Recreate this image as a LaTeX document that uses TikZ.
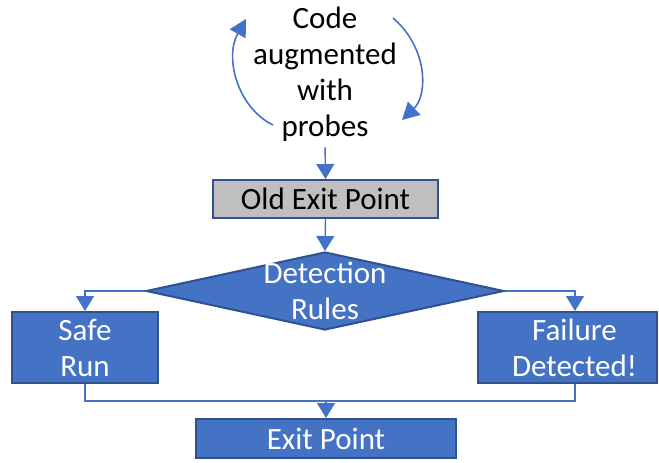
\documentclass[tikz,border=0pt]{standalone}
\usepackage{fontspec}
\setmainfont{Carlito}
\usetikzlibrary{arrows.meta,shapes.geometric}
\definecolor{boxblue}{HTML}{4472C4}
\definecolor{edgeblue}{HTML}{2F528F}
\definecolor{boxgray}{HTML}{BFBFBF}
\begin{document}
\begin{tikzpicture}[x=1pt,y=-1pt,
  txt/.style={font=\fontsize{31}{36}\selectfont, align=center, inner sep=0pt},
  bluebox/.style={txt, draw=edgeblue, line width=2pt, fill=boxblue, text=white},
  graybox/.style={txt, draw=edgeblue, line width=2pt, fill=boxgray, text=black},
  conn/.style={draw=boxblue, line width=1.4pt},
  arr/.style={conn, -{Triangle[width=18pt,length=15pt]}},
  curvarr/.style={draw=boxblue, line width=1.6pt, -{Triangle[width=18pt,length=17pt]}}]
\useasboundingbox (0,0) rectangle (659,463);

\node[txt] (code) at (325,74) {Code\\augmented\\with\\probes};
\node[graybox, minimum width=225pt, minimum height=38pt] (old) at (325.5,199) {Old Exit Point};
\node[diamond, draw=edgeblue, line width=2pt, fill=boxblue, minimum width=358pt, minimum height=78pt, inner sep=0pt,
      label={[txt,text=white]center:Detection\\Rules}] (dia) at (325,291) {};
\node[bluebox, minimum width=146pt, minimum height=71pt] (safe) at (85,347.5) {Safe\\Run};
\node[bluebox, minimum width=179pt, minimum height=71pt] (fail) at (567.5,347.5) {\hspace*{14pt}Failure\\\hspace*{14pt}Detected!};
\node[bluebox, minimum width=260pt, minimum height=39pt] (exit) at (326,438.5) {Exit Point};

\coordinate (fx) at (575,0);
\coordinate (jn) at (326,401);
\coordinate (la) at (273,125);
\coordinate (lb) at (246,19);
\coordinate (ra) at (393,18);
\coordinate (rb) at (402,120);

\draw[curvarr] (la) .. controls (238,108) and (224,58) .. (lb);
\draw[curvarr] (ra) .. controls (428,48) and (428,95) .. (rb);

\draw[arr, shorten <=6pt] (code.south) -- (old.north);
\draw[arr] (old.south) -- (dia.north);
\draw[arr] (dia.west) -| (safe.north);
\draw[arr] (dia.east) -| (fx |- fail.north);
\draw[conn] (safe.south) |- (jn);
\draw[conn] (fx |- fail.south) |- (jn);
\draw[arr] (jn) -- (exit.north);
\end{tikzpicture}
\end{document}
